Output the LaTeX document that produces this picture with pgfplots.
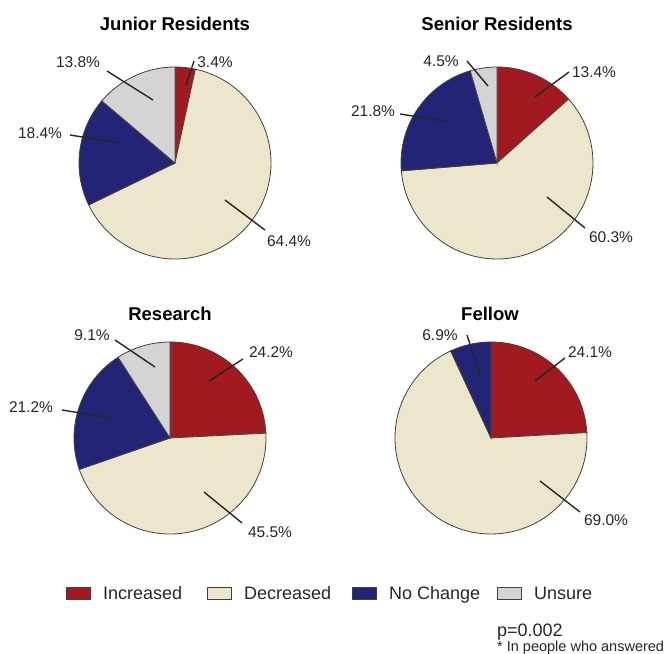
\documentclass[border=0pt]{standalone}
\usepackage{fontspec}
\setmainfont{Liberation Sans}
\usepackage{pgfplots}
\pgfplotsset{compat=1.18}

\definecolor{incr}{RGB}{160,26,32}
\definecolor{decr}{RGB}{236,231,204}
\definecolor{nochg}{RGB}{36,36,118}
\definecolor{unsure}{RGB}{212,212,212}
\definecolor{edge}{RGB}{70,64,58}

\newcommand{\lab}{\fontsize{15.5bp}{18bp}\selectfont}
\newcommand{\ttl}{\fontsize{18.5bp}{21bp}\selectfont\bfseries}
\newcommand{\leg}{\fontsize{18bp}{21bp}\selectfont}

% \pie{cx}{cy}{value/colour,...}: slices clockwise from 12 o'clock, radius 96
\newcommand{\pie}[3]{%
  \xdef\angA{90}%
  \foreach \v/\c in {#3} {%
    \pgfmathsetmacro{\angB}{\angA-3.6*\v}%
    \edef\temp{\noexpand\filldraw[fill=\c,draw=edge,line width=0.8bp]
      (axis cs:#1,#2) -- ++(\angA:96bp)
      arc[start angle=\angA,end angle=\angB,radius=96bp] -- cycle;}%
    \temp
    \xdef\angA{\angB}%
  }%
}

\begin{document}
\begin{tikzpicture}
\useasboundingbox (0,0) rectangle (667bp,654bp);
\begin{axis}[
    at={(0bp,654bp)}, anchor=origin,
    x=1bp, y=1bp,
    xmin=0, xmax=667, ymin=0, ymax=654,
    y dir=reverse,
    hide axis, clip=false, scale only axis,
]
% pies
\pie{175}{163}{3.4/incr,64.4/decr,18.4/nochg,13.8/unsure}
\pie{497}{163}{13.4/incr,60.3/decr,21.8/nochg,4.5/unsure}
\pie{170}{438}{24.2/incr,45.5/decr,21.2/nochg,9.1/unsure}
\pie{491}{438}{24.1/incr,69.0/decr,6.9/nochg}

% titles
\node[font=\ttl] at (175,24) {Junior Residents};
\node[font=\ttl] at (497,24) {Senior Residents};
\node[font=\ttl] at (170,314) {Research};
\node[font=\ttl] at (490,314) {Fellow};

% leaders
\begin{scope}[line width=1.4bp, black!85]
\draw (186,85) -- (194,61);
\draw (107,71) -- (153,100);
\draw (70,135) -- (120,143);
\draw (225,200) -- (265,230);

\draw (535,97) -- (569,72);
\draw (467,61) -- (488,86);
\draw (400,114) -- (450,122);
\draw (547,197) -- (585,228);

\draw (209,381) -- (243,359);
\draw (115,340) -- (155,367);
\draw (62,410) -- (112,418);
\draw (204,492) -- (242,523);

\draw (535,381) -- (565,358);
\draw (467,335) -- (480,375);
\draw (540,481) -- (580,512);
\end{scope}

% slice labels
\begin{scope}[every node/.style={font=\lab, text=black!85, inner sep=0pt}]
\node at (215,62) {3.4\%};
\node at (78,62) {13.8\%};
\node at (40,133) {18.4\%};
\node at (289,241) {64.4\%};

\node at (594,72) {13.4\%};
\node at (441,61) {4.5\%};
\node at (373,111) {21.8\%};
\node at (611,237) {60.3\%};

\node at (271,352) {24.2\%};
\node at (92,335) {9.1\%};
\node at (31,407) {21.2\%};
\node at (270,532) {45.5\%};

\node at (590,352) {24.1\%};
\node at (440,335) {6.9\%};
\node at (606,520) {69.0\%};
\end{scope}

% legend
\begin{scope}[every node/.style={font=\leg, text=black!85, inner sep=0pt, anchor=base west}]
\filldraw[fill=incr, draw=edge, line width=0.8bp] (66,587) rectangle (90,599);
\node at (103,599.5) {Increased};
\filldraw[fill=decr, draw=edge, line width=0.8bp] (207,587) rectangle (231,599);
\node at (244,599.5) {Decreased};
\filldraw[fill=nochg, draw=edge, line width=0.8bp] (352,587) rectangle (376,599);
\node at (389,599.5) {No Change};
\filldraw[fill=unsure, draw=edge, line width=0.8bp] (497,587) rectangle (521,599);
\node at (534,599.5) {Unsure};
\end{scope}

\node[anchor=base west, inner sep=0pt, font=\leg, text=black!85] at (497,636) {p=0.002};
\node[anchor=base west, inner sep=0pt, font=\fontsize{14.5bp}{16bp}\selectfont, text=black!85] at (497,651) {* In people who answered};
\end{axis}
\end{tikzpicture}
\end{document}
